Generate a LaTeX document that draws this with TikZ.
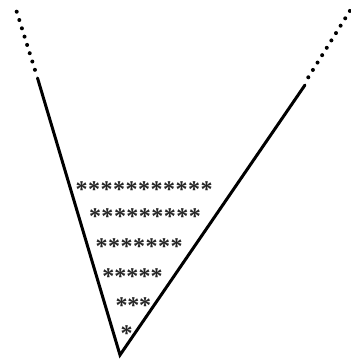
\documentclass[tikz,border=0pt]{standalone}
\usepackage{fontspec}
\setmainfont{Liberation Serif}
\tikzset{
  solidline/.style={line width=3pt, line cap=round},
  dotline/.style={line width=4pt, line cap=round, dash pattern=on 0pt off 8.7pt},
  star/.style={inner sep=0pt, anchor=center, font=\fontsize{24}{24}\selectfont\bfseries, yshift=-3.5pt, text=black!85}
}
\begin{document}
\begin{tikzpicture}[x=1pt,y=-1pt]
\useasboundingbox (0,0) rectangle (351,360);
\coordinate (V) at (120,355);
\coordinate (L1) at (37.5,78);
\coordinate (L0) at (35,70);
\coordinate (Ltop) at (16.7,11.7);
\coordinate (R1) at (305,85);
\coordinate (R0) at (308.3,77.3);
\coordinate (Rtop) at (350,10.7);
\draw[solidline] (L1) -- (V) -- (R1);
\draw[dotline] (Ltop) -- (L0);
\draw[dotline] (R0) -- (Rtop);
\foreach \r/\yy/\xx/\n/\p in {1/186/81.7/11/12.5, 2/213/95/9/12.5, 3/243/101.7/7/12.5, 4/273/108.3/5/12.1, 5/302/121.7/3/11.7, 6/330/126.7/1/12}{
  \foreach \k in {1,...,\n}{
    \node[star] (s\r-\k) at ({\xx+(\k-1)*\p},\yy) {*};
  }
}
\end{tikzpicture}
\end{document}
